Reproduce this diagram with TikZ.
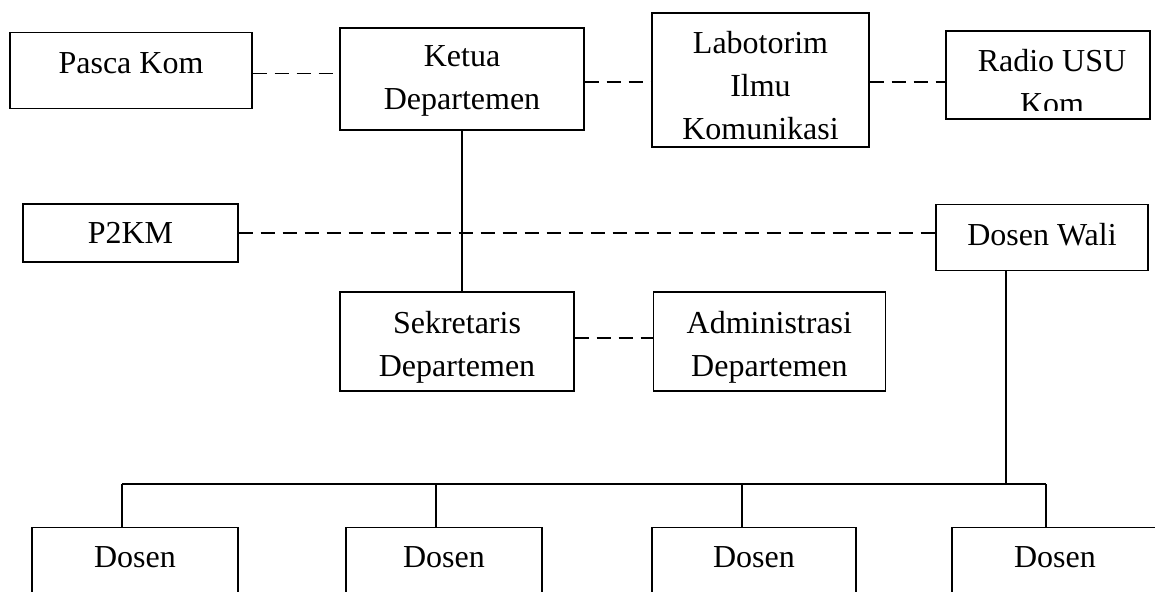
\documentclass[tikz,border=0pt]{standalone}
\usepackage{fontspec}
\setmainfont{Liberation Serif}
\usetikzlibrary{positioning}

\begin{document}
\begin{tikzpicture}[x=0.5pt,y=-0.5pt,
  font=\fontsize{16}{21.5}\selectfont,
  unit/.style={draw,line width=0.7pt,inner sep=0pt,align=center},
  txt/.style={inner sep=0pt,align=center},
  solidlink/.style={line width=0.7pt},
  dashedlink/.style={line width=0.7pt,dash pattern=on 7pt off 4pt}]
  \clip (0,0) rectangle (1155,592);
  % upper row
  \node[unit,minimum width=121pt,text height=20.5pt,text depth=17.5pt,anchor=north] (pasca) at (131,32) {Pasca Kom};
  \node[unit,minimum width=122pt,minimum height=51pt] (ketua) at (462,79) {};
  \node[txt] (ketuatext) at ([yshift=-1pt]ketua) {Ketua\\Departemen};
  \node[unit,minimum width=108.5pt,minimum height=67pt] (lab) at (760.5,80) {};
  \node[txt] (labtext) at ([yshift=-3pt]lab) {Labotorim\\Ilmu\\Komunikasi};
  \node[unit,minimum width=102pt,minimum height=44pt] (radio) at (1048,75) {};
  \begin{scope}
    \clip (radio.north west) rectangle ([yshift=4.5pt]radio.south east);
    \node[txt] (radiotext) at (1052,82) {Radio USU\\Kom};
  \end{scope}
  % middle
  \node[unit,minimum width=107.5pt,minimum height=29pt] (p2km) at (130.5,233) {P2KM};
  \node[unit,minimum width=106pt,text height=20.5pt,text depth=12.5pt,anchor=north] (wali) at (1042,204) {Dosen Wali};
  \node[unit,minimum width=117pt,minimum height=49.5pt] (sekr) at (457,341.5) {};
  \node[txt] (sekrtext) at ([yshift=-3pt]sekr) {Sekretaris\\Departemen};
  \node[unit,minimum width=116pt,minimum height=49.5pt,right=39pt of sekr] (admin) {};
  \node[txt] (admintext) at ([yshift=-3pt]admin) {Administrasi\\Departemen};
  % lecturers
  \foreach \name/\cx/\w in {d1/135/103pt,d2/444/98pt,d3/754/102pt,d4/1055/103pt}
    \node[unit,minimum width=\w,text height=20pt,text depth=30pt,anchor=north] (\name) at (\cx,527) {Dosen};
  \coordinate (hub) at (1006,484);
  \coordinate (drop1) at (122,484);
  \coordinate (drop2) at (436,484);
  \coordinate (drop3) at (742,484);
  \coordinate (drop4) at (1046,484);
  % connectors
  \draw[dashedlink] ([yshift=-1.5pt]pasca.east) -- ([yshift=-1.5pt]pasca.east -| ketua.west);
  \draw[dashedlink] ([yshift=-1.5pt]ketua.east) -- ([yshift=-1.5pt]ketua.east -| lab.west);
  \draw[dashedlink] ([yshift=-1pt]lab.east) -- ([yshift=-1pt]lab.east -| radio.west);
  \draw[dashedlink] (p2km.east) -- (p2km.east -| wali.west);
  \draw[dashedlink] ([yshift=1.75pt]sekr.east) -- ([yshift=1.75pt]sekr.east -| admin.west);
  \draw[solidlink] (ketua.south) -- (ketua.south |- sekr.north);
  \draw[solidlink] (hub |- wali.south) -- (hub);
  \draw[solidlink] (drop1) -- (drop4);
  \foreach \i in {1,...,4}
    \draw[solidlink] (drop\i) -- (drop\i |- d\i.north);
\end{tikzpicture}
\end{document}
